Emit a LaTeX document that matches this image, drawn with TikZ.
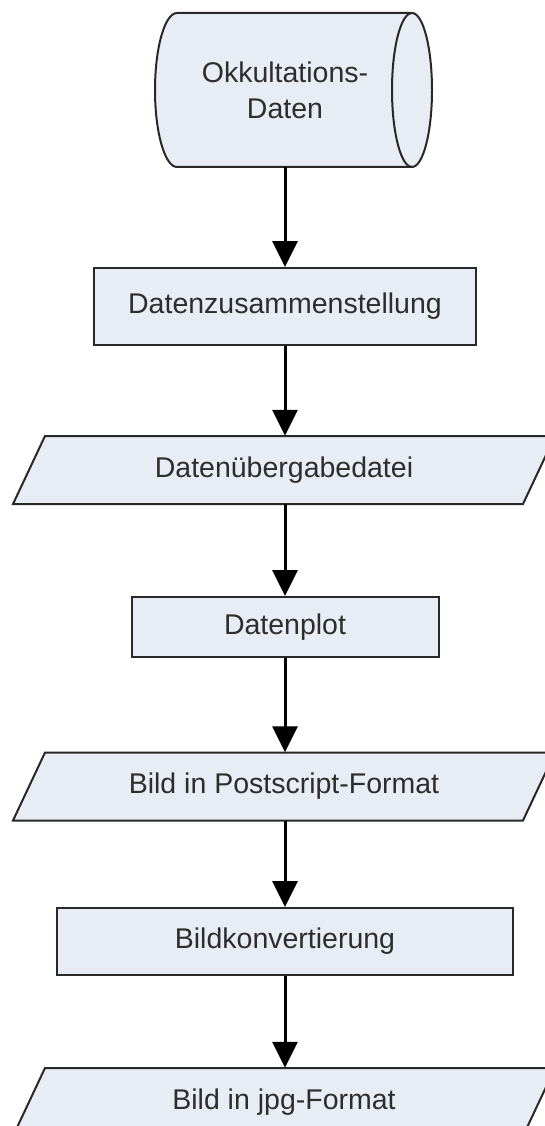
\documentclass[tikz,border=0pt]{standalone}
\usepackage{fontspec}
\setmainfont{Liberation Sans}
\usetikzlibrary{arrows.meta,calc}
\definecolor{boxfill}{RGB}{232,236,245}
\definecolor{edge}{RGB}{40,40,40}
\definecolor{ink}{RGB}{45,45,45}

% data (input/output) shape: parallelogram around a text node
% #1 name, #2 centre x, #3 centre y, #4 text
\newcommand\ioshape[4]{%
  \path[outline] (#2-239,#3-34) -- (#2+271,#3-34) -- (#2+239,#3+34) -- (#2-271,#3+34) -- cycle;
  \node[iobox] (#1) at (#2,#3) {#4};}

\begin{document}
\begin{tikzpicture}[x=1pt,y=-1pt,
  lbl/.style={font=\fontsize{28.5}{36}\selectfont, text=ink, align=center, inner sep=0pt},
  procbox/.style={lbl, draw=edge, line width=2pt, fill=boxfill},
  iobox/.style={lbl, minimum width=510pt, minimum height=68pt},
  outline/.style={draw=edge, line width=2pt, fill=boxfill},
  flow/.style={draw=black, line width=3pt, -{Triangle[width=25pt,length=26pt]}}]
\useasboundingbox (0,0) rectangle (545,1126);
\clip (0,0) rectangle (545,1126);

% stored data: horizontal cylinder
\path[outline] (177,13) -- (412,13)
  .. controls (423.05,13) and (432,47.5) .. (432,90)
  .. controls (432,132.5) and (423.05,167) .. (412,167)
  -- (177,167)
  .. controls (164.85,167) and (155,132.5) .. (155,90)
  .. controls (155,47.5) and (164.85,13) .. (177,13) -- cycle;
\draw[draw=edge, line width=2pt] (412,13)
  .. controls (400.95,13) and (392,47.5) .. (392,90)
  .. controls (392,132.5) and (400.95,167) .. (412,167);
\node[lbl, minimum height=154pt] (cyl) at (285,90) {Okkultations-\\Daten};

% processing steps
\node[procbox, minimum width=382pt, minimum height=77pt] (b1) at (285,306.5) {Datenzusammenstellung};
\node[procbox, minimum width=307pt, minimum height=60pt] (b2) at (285,627) {Datenplot};
\node[procbox, minimum width=456pt, minimum height=67pt] (b3) at (285,941.5) {Bildkonvertierung};

% intermediate files
\ioshape{p1}{284}{470}{Datenübergabedatei}
\ioshape{p2}{284}{786.5}{Bild in Postscript-Format}
\ioshape{p3}{284}{1102}{Bild in jpg-Format}

% flow
\draw[flow] (cyl.south) -- (b1.north);
\draw[flow] (b1.south) -- (b1.south |- p1.north);
\draw[flow] (b2.north |- p1.south) -- (b2.north);
\draw[flow] (b2.south) -- (b2.south |- p2.north);
\draw[flow] (b3.north |- p2.south) -- (b3.north);
\draw[flow] (b3.south) -- (b3.south |- p3.north);
\end{tikzpicture}
\end{document}
